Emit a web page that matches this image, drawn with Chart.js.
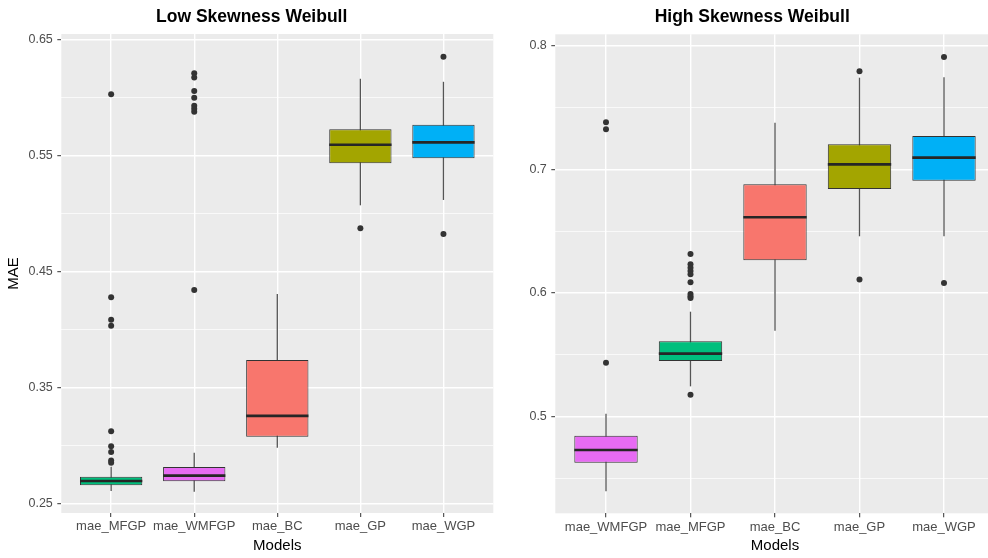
<!DOCTYPE html>
<html>
<head>
<meta charset="utf-8">
<script src="https://cdn.jsdelivr.net/npm/chart.js@4.4.1/dist/chart.umd.min.js"></script>
<style>
  html, body { margin: 0; padding: 0; background: #fff; }
  #wrap { position: relative; width: 988px; height: 558px; overflow: hidden; }
  #low { position: absolute; left: 0; top: 0; }
  #high { position: absolute; left: 494px; top: 0; }
</style>
</head>
<body>
<div id="wrap">
  <canvas id="low" width="494" height="558"></canvas>
  <canvas id="high" width="502" height="558"></canvas>
</div>
<script>
// fill colour per model (ggplot default hues)
var modelColors = {
  mae_BC: '#F8766D',
  mae_GP: '#A3A500',
  mae_MFGP: '#00BF7D',
  mae_WGP: '#00B0F6',
  mae_WMFGP: '#E76BF3'
};

// Low skewness panel
var lowModels = ['mae_MFGP', 'mae_WMFGP', 'mae_BC', 'mae_GP', 'mae_WGP'];
var lowQ1 = [0.2655, 0.2690, 0.3074, 0.5431, 0.5474];
var lowMedian = [0.2692, 0.2738, 0.3253, 0.5591, 0.5612];
var lowQ3 = [0.2729, 0.2813, 0.3735, 0.5724, 0.5764];
var lowWhiskerLow = [0.2606, 0.2600, 0.2979, 0.5069, 0.5115];
var lowWhiskerHigh = [0.2815, 0.2936, 0.4304, 0.6160, 0.6134];
var lowOutliers = [
  [0.6026, 0.4276, 0.4083, 0.4031, 0.3121, 0.2992, 0.2942, 0.2868, 0.2850],
  [0.6207, 0.6172, 0.6054, 0.5997, 0.5928, 0.5902, 0.5876, 0.4339],
  [],
  [0.4871],
  [0.6350, 0.4822]
];
var lowTickValues = [0.25, 0.30, 0.35, 0.40, 0.45, 0.50, 0.55, 0.60, 0.65];
var lowTickLabels = ['0.25', '', '0.35', '', '0.45', '', '0.55', '', '0.65'];

// High skewness panel
var highModels = ['mae_WMFGP', 'mae_MFGP', 'mae_BC', 'mae_GP', 'mae_WGP'];
var highQ1 = [0.4626, 0.5449, 0.6264, 0.6841, 0.6908];
var highMedian = [0.4729, 0.5508, 0.6612, 0.7040, 0.7094];
var highQ3 = [0.4845, 0.5608, 0.6879, 0.7202, 0.7269];
var highWhiskerLow = [0.4395, 0.5244, 0.5694, 0.6458, 0.6458];
var highWhiskerHigh = [0.5023, 0.5848, 0.7377, 0.7741, 0.7744];
var highOutliers = [
  [0.7380, 0.7324, 0.5435],
  [0.6315, 0.6231, 0.6204, 0.6177, 0.6150, 0.6086, 0.5991, 0.5972, 0.5959, 0.5176],
  [],
  [0.7793, 0.6108],
  [0.7909, 0.6080]
];
var highTickValues = [0.45, 0.50, 0.55, 0.60, 0.65, 0.70, 0.75, 0.80];
var highTickLabels = ['', '0.5', '', '0.6', '', '0.7', '', '0.8'];

Chart.defaults.font.family = '"Liberation Sans", Arial, Helvetica, sans-serif';
Chart.defaults.animation = false;

// panel background, whiskers, medians and title
var boxExtras = {
  id: 'boxExtras',
  beforeDraw: function (chart) {
    var a = chart.chartArea, ctx = chart.ctx;
    ctx.save();
    ctx.fillStyle = '#EBEBEB';
    ctx.fillRect(a.left, a.top, a.right - a.left, a.bottom - a.top);
    ctx.restore();
  },
  beforeDatasetsDraw: function (chart, args, opts) {
    var ctx = chart.ctx, x = chart.scales.x, y = chart.scales.y;
    ctx.save();
    ctx.strokeStyle = '#555';
    ctx.lineWidth = 1.3;
    for (var i = 0; i < opts.low.length; i++) {
      var px = x.getPixelForValue(i);
      ctx.beginPath();
      ctx.moveTo(px, y.getPixelForValue(opts.low[i]));
      ctx.lineTo(px, y.getPixelForValue(opts.high[i]));
      ctx.stroke();
    }
    ctx.restore();
  },
  afterDatasetsDraw: function (chart, args, opts) {
    var ctx = chart.ctx, y = chart.scales.y;
    var bars = chart.getDatasetMeta(0).data;
    ctx.save();
    ctx.strokeStyle = '#262626';
    ctx.lineWidth = 2.7;
    for (var i = 0; i < opts.median.length; i++) {
      var b = bars[i];
      var py = y.getPixelForValue(opts.median[i]);
      ctx.beginPath();
      ctx.moveTo(b.x - b.width / 2, py);
      ctx.lineTo(b.x + b.width / 2, py);
      ctx.stroke();
    }
    ctx.restore();
  },
  afterDraw: function (chart, args, opts) {
    var ctx = chart.ctx;
    ctx.save();
    ctx.fillStyle = '#000';
    ctx.font = 'bold 17.5px "Liberation Sans", Arial, sans-serif';
    ctx.textAlign = 'center';
    ctx.textBaseline = 'middle';
    ctx.fillText(opts.title, opts.titleX, 17);
    ctx.restore();
  }
};

function makePanel(id, models, q1, median, q3, wLow, wHigh, outliers, tickValues, tickLabels, yMin, yMax, yTitle, title, titleX, padTop, padRight, xHeight) {
  var points = [];
  outliers.forEach(function (list, i) {
    list.forEach(function (v) { points.push({ x: i, y: v }); });
  });

  return new Chart(document.getElementById(id), {
    type: 'bar',
    data: {
      datasets: [
        {
          type: 'bar',
          data: models.map(function (m, i) { return { x: i, y: [q1[i], q3[i]] }; }),
          backgroundColor: models.map(function (m) { return modelColors[m]; }),
          borderColor: '#333333',
          borderWidth: 1,
          borderSkipped: false,
          grouped: false,
          categoryPercentage: 1,
          barPercentage: 0.75,
          order: 1
        },
        {
          type: 'scatter',
          data: points,
          pointRadius: 3,
          pointBackgroundColor: '#333333',
          pointBorderWidth: 0,
          showLine: false,
          clip: false,
          order: 0
        }
      ]
    },
    options: {
      responsive: false,
      animation: false,
      layout: { autoPadding: false, padding: { top: padTop, right: padRight, left: 0, bottom: 0 } },
      plugins: {
        legend: { display: false },
        tooltip: { enabled: false },
        boxExtras: { low: wLow, high: wHigh, median: median, title: title, titleX: titleX }
      },
      scales: {
        x: {
          type: 'linear',
          min: -0.6,
          max: 4.6,
          offset: false,
          afterBuildTicks: function (scale) {
            scale.ticks = models.map(function (m, i) { return { value: i }; });
          },
          afterFit: function (scale) {
            scale.height = xHeight;
            scale.paddingLeft = 0;
            scale.paddingRight = 0;
          },
          ticks: {
            autoSkip: false,
            maxRotation: 0,
            padding: 2,
            color: '#4D4D4D',
            font: { size: 13 },
            callback: function (v) { return models[v]; }
          },
          grid: { offset: false, color: '#FFFFFF', lineWidth: 1.4, tickLength: 4, tickColor: '#333333', tickWidth: 1 },
          border: { display: false },
          title: { display: true, text: 'Models', color: '#000', font: { size: 15 }, padding: { top: 0, bottom: 3 } }
        },
        y: {
          type: 'linear',
          min: yMin,
          max: yMax,
          afterBuildTicks: function (scale) {
            scale.ticks = tickValues.map(function (v) { return { value: v }; });
          },
          afterFit: function (scale) {
            scale.width = 61.3;
            scale.paddingTop = 0;
            scale.paddingBottom = 0;
          },
          ticks: {
            autoSkip: false,
            padding: 4.5,
            color: '#4D4D4D',
            font: { size: 12.5 },
            callback: function (v, i) { return tickLabels[i]; }
          },
          grid: {
            color: '#FFFFFF',
            lineWidth: function (c) { return tickLabels[c.index] ? 1.4 : 0.7; },
            tickLength: 4,
            tickWidth: 1,
            tickColor: function (c) { return tickLabels[c.index] ? '#333333' : 'rgba(0,0,0,0)'; }
          },
          border: { display: false },
          title: { display: yTitle !== '', text: yTitle, color: '#000', font: { size: 15 }, padding: { top: 5, bottom: 0 } }
        }
      }
    },
    plugins: [boxExtras]
  });
}

makePanel('low', lowModels, lowQ1, lowMedian, lowQ3, lowWhiskerLow, lowWhiskerHigh, lowOutliers,
  lowTickValues, lowTickLabels, 0.2416, 0.6546, 'MAE', 'Low Skewness Weibull', 251.7, 34, 0.7, 45);
makePanel('high', highModels, highQ1, highMedian, highQ3, highWhiskerLow, highWhiskerHigh, highOutliers,
  highTickValues, highTickLabels, 0.4217, 0.8092, '', 'High Skewness Weibull', 258.2, 34.3, 1.3, 44.7);
</script>
</body>
</html>
